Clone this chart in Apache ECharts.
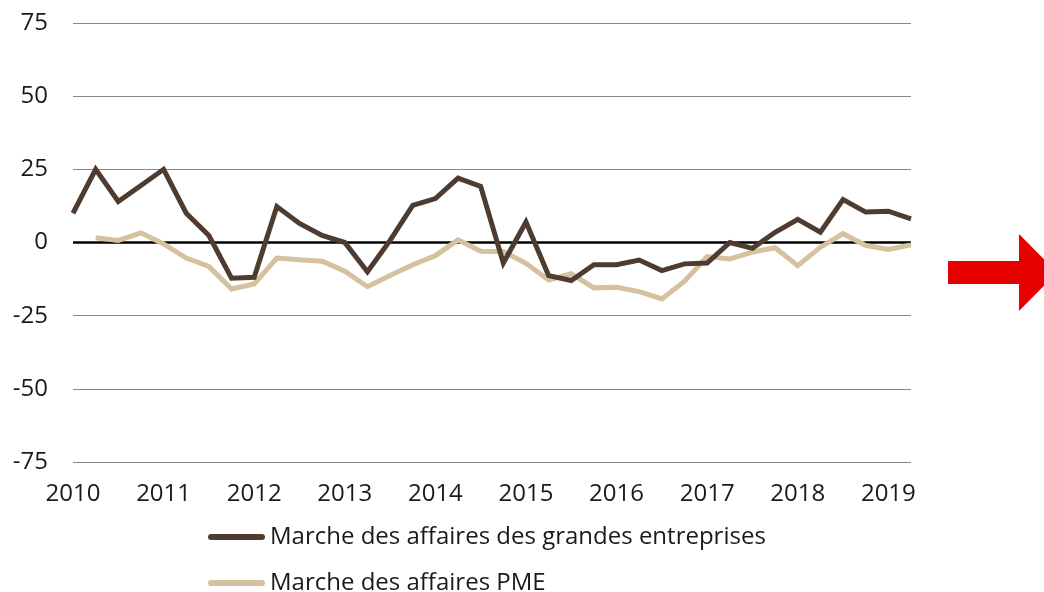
<!DOCTYPE html>
<html lang="fr">
<head>
<meta charset="utf-8">
<title>Marche des affaires</title>
<script src="https://cdn.jsdelivr.net/npm/echarts@6/dist/echarts.min.js"></script>
<style>
  html, body { margin: 0; padding: 0; background: #fff; }
  #chart { width: 1044px; height: 592px; }
</style>
</head>
<body>
<div id="chart"></div>
<script>
// années affichées sur l'axe, données trimestrielles
const years = ['2010', '2011', '2012', '2013', '2014', '2015', '2016', '2017', '2018', '2019']
const quarters = []
years.forEach(y => {
  ['T1', 'T2', 'T3', 'T4'].forEach(q => quarters.push(y + ' ' + q))
})
const categories = quarters.slice(0, 38) // jusqu'à 2019 T2

const grandesEntreprises = [
  10, 25, 14, 19.5, 25, 10, 2.4, -12.2, -11.9, 12.3,
  6.5, 2.4, 0, -10, 0.7, 12.7, 15, 22, 19.2, -7,
  7, -11.3, -13, -7.6, -7.6, -6, -9.6, -7.3, -7, 0,
  -2, 3.5, 7.9, 3.5, 14.7, 10.4, 10.7, 8.1
]
const pme = [
  '-', 1.6, 0.7, 3.3, -0.5, -5.3, -8.2, -15.9, -14.2, -5.3,
  -5.9, -6.4, -9.8, -15.1, -11.3, -7.6, -4.5, 0.9, -3, -3.1,
  -7.1, -12.8, -10.7, -15.5, -15.3, -16.8, -19.3, -13.2, -4.8, -5.6,
  -3.3, -1.8, -7.9, -1.6, 3, -1, -2.4, -0.8
]
const yTicks = { min: -75, max: 75, interval: 25 }

const labelFont = 'Open Sans'
const nameGrandes = 'Marche des affaires des grandes entreprises'
const namePme = 'Marche des affaires PME'

// trait arrondi pour la légende
const legendIcon = 'path://M3,0 L54,0 A3,3 0 0 1 54,6 L3,6 A3,3 0 0 1 3,0 Z'
const legendBase = {
  left: 208,
  padding: 0,
  icon: legendIcon,
  itemWidth: 57,
  itemHeight: 6,
  textStyle: {
    fontFamily: labelFont,
    fontSize: 24,
    color: '#1a1a1a',
  },
}

let option = {
  animation: false,
  grid: {
    left: 73,
    right: 133,
    top: 23,
    bottom: 130,
  },
  legend: [
    { ...legendBase, top: 525, data: [nameGrandes] },
    { ...legendBase, top: 571, data: [namePme] },
  ],
  xAxis: {
    type: 'category',
    data: categories,
    boundaryGap: false,
    axisLine: { show: false, onZero: false },
    axisTick: { show: false },
    splitLine: { show: false },
    axisLabel: {
      interval: 3,
      margin: 20,
      fontFamily: labelFont,
      fontSize: 24,
      color: '#1a1a1a',
      formatter: v => v.slice(0, 4),
    },
  },
  yAxis: {
    type: 'value',
    min: yTicks.min,
    max: yTicks.max,
    interval: yTicks.interval,
    axisLine: { show: false },
    axisTick: { show: false },
    axisLabel: {
      margin: 25,
      fontFamily: labelFont,
      fontSize: 24,
      color: '#1a1a1a',
    },
    splitLine: {
      lineStyle: { color: '#8a8a8a', width: 1 },
    },
  },
  series: [
    {
      name: nameGrandes,
      type: 'line',
      data: grandesEntreprises,
      symbol: 'none',
      z: 4,
      lineStyle: { color: '#4e3c30', width: 5, join: 'miter' },
      itemStyle: { color: '#4e3c30' },
      markLine: {
        silent: true,
        symbol: 'none',
        label: { show: false },
        lineStyle: { color: '#000', width: 2.5, type: 'solid' },
        data: [{ yAxis: 0 }],
        z: 1,
      },
    },
    {
      name: namePme,
      type: 'line',
      data: pme,
      symbol: 'none',
      z: 3,
      lineStyle: { color: '#d4c19d', width: 5, join: 'miter' },
      itemStyle: { color: '#d4c19d' },
    },
  ],
  graphic: [
    {
      type: 'polygon',
      shape: {
        points: [[948, 261], [1019, 261], [1019, 234], [1057, 272.5], [1019, 311], [1019, 284], [948, 284]],
      },
      style: { fill: '#e60000' },
    },
  ],
}

var myChart = echarts.init(document.getElementById('chart'))
myChart.setOption(option)
window.addEventListener('resize', () => {
  myChart.resize()
})
</script>
</body>
</html>
